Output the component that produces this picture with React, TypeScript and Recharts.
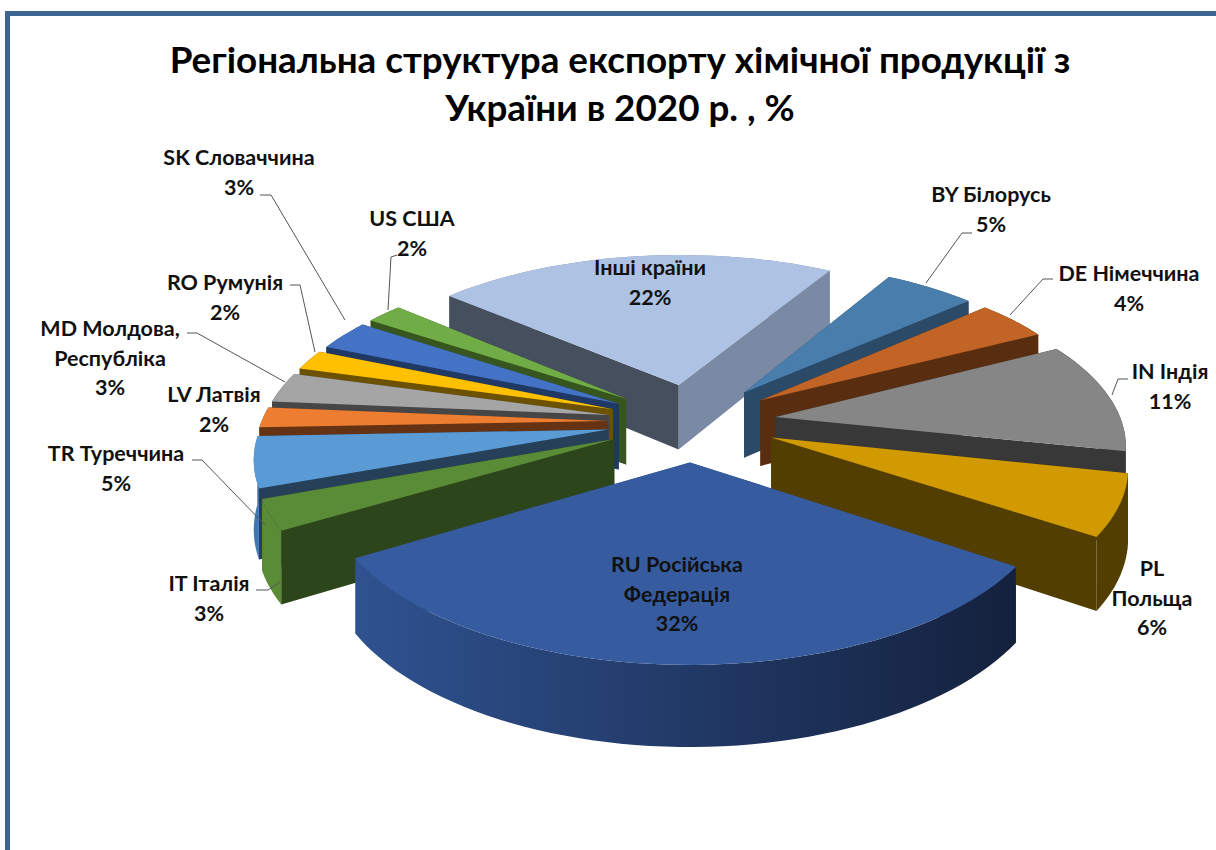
import React from 'react';
import { PieChart, Pie } from 'recharts';

const countries = ['Інші країни', 'BY Білорусь', 'DE Німеччина', 'IN Індія', 'PL Польща', 'RU Російська Федерація', 'IT Італія', 'TR Туреччина', 'LV Латвія', 'MD Молдова, Республіка', 'RO Румунія', 'SK Словаччина', 'US США'];
const shares = [22, 5, 4, 11, 6, 32, 3, 5, 2, 3, 2, 3, 2];
const topColors = ['#AEC3E3', '#497DAC', '#C16426', '#868686', '#D09A00', '#365C9F', '#5A8C38', '#5B9BD5', '#ED7D31', '#A5A5A5', '#FFC000', '#4472C4', '#70AD47'];
const cutColors = ['#454F5E', '#2B4A68', '#582D10', '#383838', '#523E00', '#2F5290', '#2D451B', '#264059', '#653313', '#464646', '#6B5100', '#1F3864', '#37561F'];
const rimColors = ['#7A8AA5', '#2B4A68', '#582D10', '#383838', '#523E00', '#2F5290', '#5A8C38', '#3E78AE', '#653313', '#464646', '#6B5100', '#1F3864', '#37561F'];
const rimEndColors = ['#7A8AA5', '#2B4A68', '#582D10', '#383838', '#523E00', '#14213D', '#5A8C38', '#3E78AE', '#653313', '#464646', '#6B5100', '#1F3864', '#37561F'];

// back to front, so nearer slices cover the walls of farther ones
const paintOrder = [0, 12, 11, 10, 9, 8, 7, 6, 1, 2, 3, 4, 5];

const chartData = countries.map((name, i) => ({ name, value: shares[i], top: topColors[i], cut: cutColors[i], rim: rimColors[i], rimEnd: rimEndColors[i] }));

const SQUASH = 0.46;
const PERSPECTIVE = 0.148;
const EXPLODE = 0.245;
const DEPTH = 67;
const RAD = Math.PI / 180;

type Pt = [number, number];

const project = (p: any, u: number, v: number, down = 0): Pt => {
  const k = 1 / (1 + PERSPECTIVE * v);
  return [p.cx + p.outerRadius * u * k, p.cy - p.outerRadius * SQUASH * v * k + down * DEPTH * k];
};

const toPath = (pts: Pt[]) => 'M' + pts.map((q) => `${q[0].toFixed(1)},${q[1].toFixed(1)}`).join('L') + 'Z';

const Slice3D = (props: any) => {
  const { startAngle, endAngle, midAngle, payload } = props;
  const ox = EXPLODE * Math.cos(midAngle * RAD);
  const oy = EXPLODE * Math.sin(midAngle * RAD);
  const rim = (a: number): [number, number] => [ox + Math.cos(a * RAD), oy + Math.sin(a * RAD)];
  const steps = Math.max(4, Math.ceil(Math.abs(endAngle - startAngle) / 2));
  const angles = Array.from({ length: steps + 1 }, (_, i) => startAngle + ((endAngle - startAngle) * i) / steps);

  const topArc = angles.map((a) => project(props, ...rim(a)));
  const lowArc = angles.map((a) => project(props, ...rim(a), 1));
  const apex = project(props, ox, oy);
  const apexLow = project(props, ox, oy, 1);

  const cutA = [apex, topArc[0], lowArc[0], apexLow];
  const cutB = [apex, topArc[steps], lowArc[steps], apexLow];
  const aIsFar = topArc[0][1] < topArc[steps][1];
  const gradId = `wall-${payload.value}-${Math.round(midAngle)}`;
  const isOther = payload.name === countries[0];
  const atBack = oy > 0;

  const rimWall = <path d={toPath([...topArc, ...[...lowArc].reverse()])} fill={`url(#${gradId})`} />;

  return (
    <g>
      <defs>
        <linearGradient id={gradId} x1="0" y1="0" x2="1" y2="0">
          <stop offset="0" stopColor={payload.rim} />
          <stop offset="1" stopColor={payload.rimEnd} />
        </linearGradient>
      </defs>
      {atBack && rimWall}
      <path d={toPath(aIsFar ? cutA : cutB)} fill={isOther ? payload.rim : payload.cut} />
      <path d={toPath(aIsFar ? cutB : cutA)} fill={payload.cut} />
      {!atBack && rimWall}
      <path d={toPath([apex, ...topArc])} fill={payload.top} />
    </g>
  );
};

// label text lines, centre x, first line y, leader line
const labelLayout: Record<string, { x: number; y: number; lines: string[]; leader?: number[][] }> = {
  'Інші країни': { x: 650, y: 268, lines: ['Інші країни', '22%'] },
  'BY Білорусь': { x: 991, y: 195, lines: ['BY Білорусь', '5%'], leader: [[972, 233], [962, 233], [926, 283]] },
  'DE Німеччина': { x: 1129, y: 274, lines: ['DE Німеччина', '4%'], leader: [[1053, 279], [1043, 279], [1010, 315]] },
  'IN Індія': { x: 1170, y: 372, lines: ['IN Індія', '11%'], leader: [[1128, 379], [1118, 379], [1112, 395]] },
  'PL Польща': { x: 1152, y: 569, lines: ['PL', 'Польща', '6%'] },
  'RU Російська Федерація': { x: 677, y: 565, lines: ['RU Російська', 'Федерація', '32%'] },
  'IT Італія': { x: 209, y: 584, lines: ['IT Італія', '3%'], leader: [[256, 590], [268, 590], [280, 582]] },
  'TR Туреччина': { x: 116, y: 454, lines: ['TR Туреччина', '5%'], leader: [[192, 460], [202, 460], [265, 525]] },
  'LV Латвія': { x: 214, y: 395, lines: ['LV Латвія', '2%'] },
  'MD Молдова, Республіка': { x: 110, y: 329, lines: ['MD Молдова,', 'Республіка', '3%'], leader: [[187, 333], [197, 333], [285, 382]] },
  'RO Румунія': { x: 225, y: 283, lines: ['RO Румунія', '2%'], leader: [[290, 285], [300, 285], [315, 352]] },
  'SK Словаччина': { x: 239, y: 158, lines: ['SK Словаччина', '3%'], leader: [[260, 195], [271, 195], [345, 320]] },
  'US США': { x: 412, y: 219, lines: ['US США', '2%'], leader: [[397, 255], [391, 257], [388, 310]] },
};

const renderLabel = (props: any) => {
  const spot = labelLayout[props.name];
  if (!spot) return <g />;
  return (
    <g>
      {spot.leader && <polyline points={spot.leader.map((q) => q.join(',')).join(' ')} fill="none" stroke="#555" strokeWidth={1} />}
      <text textAnchor="middle" fontFamily="Lato, 'Noto Sans', sans-serif" fontWeight={700} fontSize={21.5} fill="#111">
        {spot.lines.map((line, i) => (
          <tspan key={i} x={spot.x} y={spot.y + i * 29.5 + 7}>{line}</tspan>
        ))}
      </text>
    </g>
  );
};

const pieProps = {
  data: chartData,
  dataKey: 'value',
  nameKey: 'name',
  cx: 687,
  cy: 417,
  outerRadius: 346,
  startAngle: 139,
  endAngle: -221,
  stroke: 'none',
  isAnimationActive: false,
};

export default function App() {
  return (
    <div style={{ position: 'absolute', left: 0, top: 0, width: 1216, height: 850, background: '#fff', overflow: 'hidden' }}>
      <div style={{ position: 'absolute', left: 5, top: 11, width: 1211, height: 839, borderLeft: '5px solid #3B6593', borderTop: '5px solid #3B6593', boxSizing: 'border-box' }} />
      <div style={{ position: 'absolute', left: 70, top: 35, width: 1100, textAlign: 'center', fontFamily: "Lato, 'Noto Sans', sans-serif", fontWeight: 700, fontSize: 36.8, lineHeight: '48px', color: '#000' }}>
        Регіональна структура експорту хімічної продукції з<br />України в 2020 р. , %
      </div>
      <div style={{ position: 'absolute', left: 0, top: 0 }}>
        <PieChart width={1216} height={850}>
          {paintOrder.map((idx) => (
            <Pie
              key={idx}
              {...pieProps}
              shape={(p: any) => (p.name === countries[idx] ? <Slice3D {...p} /> : <g />)}
            />
          ))}
          <Pie {...pieProps} shape={() => <g />} label={renderLabel} labelLine={false} />
        </PieChart>
      </div>
    </div>
  );
}
